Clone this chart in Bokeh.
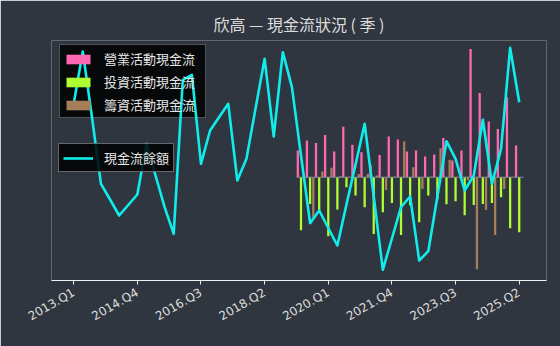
import math
from bokeh.plotting import figure
from bokeh.models import (Range1d, Legend, LegendItem, FixedTicker, ColumnDataSource,
                          BoxAnnotation)
from bokeh.transform import dodge
from bokeh.embed import file_html
from bokeh.resources import INLINE

# ---------------- data ----------------
quarters = [f"{y}.Q{q}" for y in range(2013, 2026) for q in range(1, 5)][:50]

cash_balance = [176.7, 229.0, 164.0, 96.7, 81.0, 65.0, 75.5, 86.0, 136.7, 105.0,
                73.3, 46.7, 200.7, 205.7, 116.7, 150.0, 163.5, 176.7, 100.0, 121.7,
                172.0, 221.7, 144.0, 228.3, 193.3, 125.0, 57.3, 70.0, 52.5, 35.0,
                76.0, 116.0, 156.7, 84.0, 10.7, 42.0, 73.3, 84.0, 20.0, 29.3,
                84.0, 139.3, 121.7, 90.0, 105.0, 160.7, 96.7, 131.7, 232.7, 178.3]

bar_quarters = quarters[25:]
operating = [26.7, 36.7, 34.3, 42.3, 25.7, 50.5, 32.5, 25.0, 12.5, 22.3,
             40.7, 37.7, 25.7, 26.7, 20.7, 22.7, 39.3, 16.7, 26.7, 128.3,
             84.3, 55.7, 48.3, 80.0, 31.7]
investing = [-53.0, -26.7, -35.0, -59.0, -32.3, -10.0, -18.3, -30.0, -56.7, -35.0,
             -25.7, -57.7, -28.0, -45.0, -18.3, -22.0, -27.0, -24.0, -38.0, -27.7,
             -26.7, -25.7, -20.0, -51.0, -55.0]
financing = [0.0, -40.0, 5.7, 9.5, 1.0, 0.0, 3.3, 3.3, 1.7, -12.7,
             0.5, 35.7, 10.0, -11.7, 0.5, 29.0, 17.5, 0.0, -3.0, -92.0,
             -32.7, -57.7, -11.7, 0.0, 0.0]

labels = ["營業活動現金流", "投資活動現金流", "籌資活動現金流"]
line_label = "現金流餘額"
title_text = "欣高 — 現金流狀況 ( 季 )"

# ---------------- styles ----------------
BG = "#30363f"
PINK = "#ff69b4"
YGREEN = "#adff2f"
BROWN = "#a67f59"
CYAN = "#10ecec"
TXT = "#dcdcdc"
CJK = "Noto Sans CJK TC"

W_PX, H_PX = 560, 346
BL, BR, BT, BB = 51, 14, 40, 66
X0, X1 = -2.44, 52.0
Y0, Y1 = -103.3, 136.7

idx = list(range(len(quarters)))
bar_idx = [quarters.index(q) for q in bar_quarters]

p = figure(width=W_PX, height=H_PX, output_backend="svg", toolbar_location=None,
           x_range=Range1d(X0, X1), y_range=Range1d(Y0, Y1),
           y_axis_location=None,
           min_border_left=BL, min_border_right=BR, min_border_top=BT, min_border_bottom=BB)
p.extra_y_ranges = {"cash": Range1d(0, 240)}

p.background_fill_color = BG
p.border_fill_color = BG
p.outline_line_color = None
p.grid.visible = False

p.title.text = title_text
p.title.align = "center"
p.title.text_font = CJK
p.title.text_font_size = "16px"
p.title.text_font_style = "normal"
p.title.text_color = TXT
p.title.standoff = 9

FW = W_PX - BL - BR
FH = H_PX - BT - BB
def px_x(px):
    return X0 + (px - BL) * (X1 - X0) / FW
def px_y(py):
    return Y1 - (py - BT) * (Y1 - Y0) / FH

# legend backdrop drawn beneath the line (as in the reference)
backdrop = BoxAnnotation(left=px_x(59), right=px_x(205), top=px_y(44), bottom=px_y(117),
                         fill_color="black", fill_alpha=0.85,
                         line_color="#c8c8c8", line_width=1, level="underlay")
p.add_layout(backdrop)

bsrc = ColumnDataSource(dict(k=bar_idx, op=operating, inv=investing, fin=financing))
W = 0.25
OFF = 0.35
r_op = p.vbar(x=dodge("k", -OFF, range=p.x_range), top="op", bottom=0, width=W,
              source=bsrc, fill_color=PINK, line_color=None)
r_inv = p.vbar(x=dodge("k", 0.0, range=p.x_range), top="inv", bottom=0, width=W,
               source=bsrc, fill_color=YGREEN, line_color=None)
r_fin = p.vbar(x=dodge("k", OFF, range=p.x_range), top="fin", bottom=0, width=W,
               source=bsrc, fill_color=BROWN, line_color=None)

# zero baseline under the bars
p.line(x=[bar_idx[0] - OFF - W / 2, bar_idx[-1] + OFF + W / 2], y=[0, 0],
       line_color="#8a8f96", line_width=1)

r_line = p.line(x=idx, y=cash_balance, y_range_name="cash",
                line_color=CYAN, line_width=2.6, line_join="round")

ax = p.xaxis[0]
ticks = list(range(0, len(quarters), 7))
ax.ticker = FixedTicker(ticks=ticks)
ax.major_label_overrides = {t: quarters[t] for t in ticks}
ax.major_label_orientation = math.pi / 6
ax.major_label_text_font = "DejaVu Sans"
ax.major_label_text_font_size = "12px"
ax.major_label_text_color = TXT
ax.axis_line_color = "#f0f0f0"
ax.axis_line_width = 1
ax.major_tick_line_color = "#f0f0f0"
ax.major_tick_out = 4
ax.major_tick_in = 0
ax.minor_tick_line_color = None
ax.major_label_standoff = 7

def style_legend(lg):
    lg.label_text_font = CJK
    lg.label_text_font_size = "13px"
    lg.label_text_color = "#e6e6e6"
    lg.background_fill_color = "black"
    lg.background_fill_alpha = 0.85
    lg.border_line_color = "#c8c8c8"
    lg.border_line_width = 1
    lg.padding = 4
    lg.spacing = 4
    lg.margin = 0
    lg.glyph_width = 30
    lg.glyph_height = 12
    lg.label_standoff = 11

leg1 = Legend(items=[LegendItem(label=labels[0], renderers=[r_op]),
                     LegendItem(label=labels[1], renderers=[r_inv]),
                     LegendItem(label=labels[2], renderers=[r_fin])],
              location=(8, 162))
style_legend(leg1)
leg1.background_fill_alpha = 0.0
leg1.border_line_alpha = 0.0
leg2 = Legend(items=[LegendItem(label=line_label, renderers=[r_line])],
              location=(7, 108))
style_legend(leg2)
p.add_layout(leg1)
p.add_layout(leg2)

open("out.html", "w").write(file_html(p, INLINE))
